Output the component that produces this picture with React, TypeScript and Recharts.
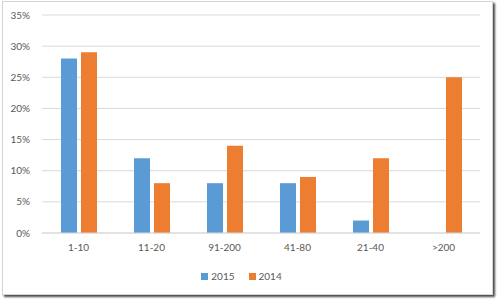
import React from 'react';
import { BarChart, Bar, XAxis, YAxis, CartesianGrid, Legend } from 'recharts';

const categories = ['1-10', '11-20', '91-200', '41-80', '21-40', '>200'];
const share2015 = [28, 12, 8, 8, 2, 0];
const share2014 = [29, 8, 14, 9, 12, 25];
const yTicks = [0, 5, 10, 15, 20, 25, 30, 35];

const seriesList = [
  { key: 'y2015', name: '2015', color: '#5b9bd5' },
  { key: 'y2014', name: '2014', color: '#ed7d31' },
];

const data = categories.map((range, i) => ({
  range,
  y2015: share2015[i],
  y2014: share2014[i],
}));

const font = 'Lato, "Open Sans", sans-serif';
const tickStyle = { fill: '#595959', fontSize: 10, fontFamily: font };

// legend in fixed series order, grey text like Excel
const LegendContent = () => (
  <div style={{ display: 'flex', justifyContent: 'center', gap: 14, fontSize: 10, fontFamily: font, color: '#595959' }}>
    {seriesList.map((s) => (
      <span key={s.key} style={{ display: 'inline-flex', alignItems: 'center', gap: 3 }}>
        <span style={{ width: 7, height: 7, background: s.color, display: 'inline-block' }} />
        {s.name}
      </span>
    ))}
  </div>
);

export default function App() {
  return (
    <div style={{ position: 'absolute', left: 0, top: 0, width: 498, height: 300, background: '#fff' }}>
      <div
        style={{
          position: 'absolute',
          left: 2,
          top: 1,
          width: 491,
          height: 294,
          border: '1px solid #d4d4d4',
          boxSizing: 'border-box',
          boxShadow: '2px 2px 2px #4a4a4a',
          background: '#fff',
        }}
      >
        <BarChart
          width={489}
          height={292}
          data={data}
          margin={{ top: 13, right: 12, left: 0, bottom: 19 }}
          barSize={16}
          barGap={4}
        >
          <CartesianGrid vertical={false} stroke="#d9d9d9" />
          <XAxis
            dataKey="range"
            tick={tickStyle}
            tickLine={false}
            axisLine={{ stroke: '#d9d9d9' }}
            tickMargin={5}
            height={30}
            interval={0}
          />
          <YAxis
            domain={[0, 35]}
            ticks={yTicks}
            tickFormatter={(v) => `${v}%`}
            tick={tickStyle}
            tickLine={false}
            axisLine={false}
            tickMargin={6}
            width={39}
          />
          <Legend verticalAlign="bottom" content={<LegendContent />} wrapperStyle={{ bottom: 12 }} />
          {seriesList.map((s) => (
            <Bar key={s.key} dataKey={s.key} name={s.name} fill={s.color} isAnimationActive={false} />
          ))}
        </BarChart>
      </div>
    </div>
  );
}
